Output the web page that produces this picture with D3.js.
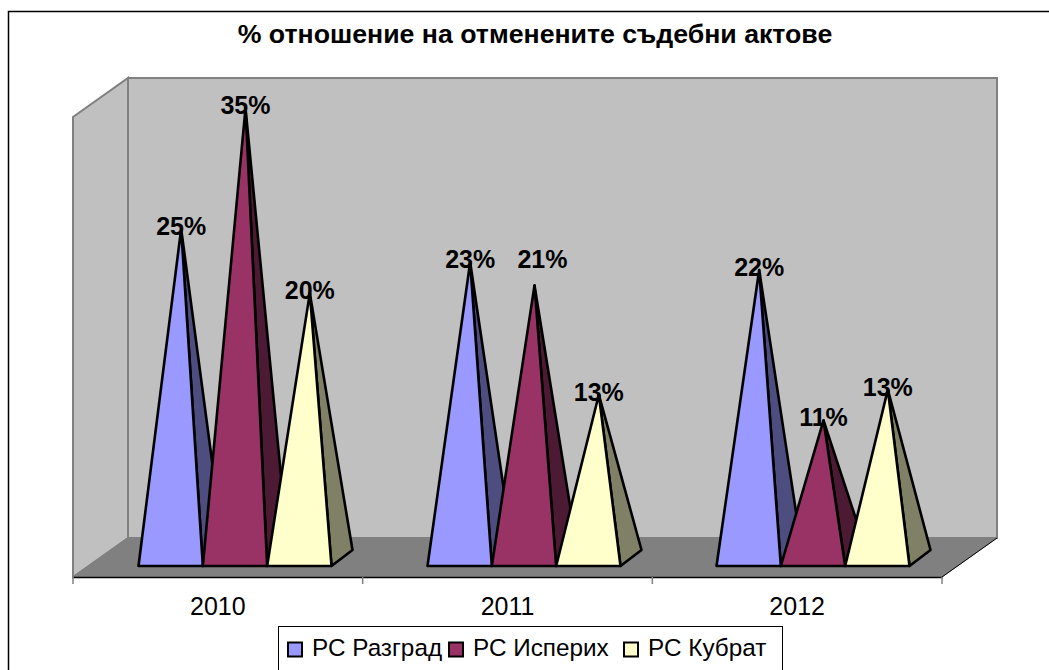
<!DOCTYPE html>
<html>
<head>
<meta charset="utf-8">
<script src="https://cdnjs.cloudflare.com/ajax/libs/d3/7.8.5/d3.min.js"></script>
<style>
html, body { margin: 0; padding: 0; background: #fff; overflow: hidden; }
text { font-family: "Liberation Sans", Arial, sans-serif; fill: #000; }
</style>
</head>
<body>
<div id="main"></div>
<script>
var title = "% отношение на отменените съдебни актове";
var years = ["2010", "2011", "2012"];
var courts = ["РС Разград", "РС Исперих", "РС Кубрат"];
var razgrad = [25.6, 23, 22.4];
var isperih = [35, 21.2, 10.7];
var kubrat = [20.6, 12.7, 13.1];
var razgradLabels = ["25%", "23%", "22%"];
var isperihLabels = ["35%", "21%", "11%"];
var kubratLabels = ["20%", "13%", "13%"];

var frontColors = ["#9999ff", "#993366", "#ffffcc"];
var sideColors = ["#4d4d80", "#4d1a33", "#808066"];

var w = 1049;
var h = 670;

var svg = d3.select("#main").append("svg").
attr("width", w).
attr("height", h);

// chart frame runs off the right and bottom of the picture
svg.append("rect").
attr("x", 8.5).attr("y", 11.5).
attr("width", w + 20).attr("height", h + 20).
attr("fill", "#fff").attr("stroke", "#000").attr("stroke-width", 1.5);

svg.append("text").
attr("x", 535).attr("y", 43).
attr("text-anchor", "middle").
attr("font-weight", "bold").
attr("font-size", 26.7).
text(title);

// box: front plane and the shift to the back plane
var left = 73, right = 942, floorY = 577, topY = 117;
var depthX = 55, depthY = -39;

var wallLine = d3.line();

svg.append("path").
attr("d", wallLine([[left, floorY], [left, topY], [left + depthX, topY + depthY], [left + depthX, floorY + depthY]]) + "Z").
attr("fill", "#c0c0c0").attr("stroke", "#808080").attr("stroke-width", 2);

svg.append("path").
attr("d", wallLine([[left + depthX, topY + depthY], [right + depthX, topY + depthY], [right + depthX, floorY + depthY], [left + depthX, floorY + depthY]]) + "Z").
attr("fill", "#c0c0c0").attr("stroke", "#808080").attr("stroke-width", 2);

svg.append("path").
attr("d", wallLine([[left, floorY], [left + depthX, floorY + depthY], [right + depthX, floorY + depthY], [right, floorY]]) + "Z").
attr("fill", "#808080").attr("stroke", "#808080").attr("stroke-width", 1);

svg.append("path").
attr("d", wallLine([[right, floorY], [right + depthX, floorY + depthY]])).
attr("fill", "none").attr("stroke", "#000").attr("stroke-width", 1);

// axis along the front edge of the floor
var xAxisScale = d3.scaleBand().domain(years).range([left, right]);

var axisG = svg.append("g").attr("transform", "translate(0," + floorY + ")");
axisG.call(d3.axisBottom(xAxisScale).tickSize(0).tickPadding(20)).
selectAll("text").attr("font-size", 25).style("font-family", "'Liberation Sans', Arial, sans-serif");
axisG.select(".domain").attr("stroke", "#000").attr("stroke-width", 1.5);

axisG.selectAll("line.edge").
data(d3.range(4)).
enter().
append("line").
attr("class", "edge").
attr("x1", function (d) {return left + d * xAxisScale.bandwidth();}).
attr("x2", function (d) {return left + d * xAxisScale.bandwidth();}).
attr("y1", 0).attr("y2", 7).
attr("stroke", "#808080").attr("stroke-width", 1.5);

// pyramids
var baseY = 566;
var sideX = 21, sideY = -16;

var x0 = d3.scaleBand().domain(years).range([90.5, 957.5]);
var x1 = d3.scaleBand().domain(d3.range(3)).range([0, 193]);
var y = d3.scaleLinear().domain([0, 35]).range([baseY + sideY / 2, 108]);

var series = [razgrad, isperih, kubrat];
var seriesLabels = [razgradLabels, isperihLabels, kubratLabels];

var groupPad = (x0.bandwidth() - 193) / 2;

years.forEach(function (year, yi) {
  var g = svg.append("g");

  series.forEach(function (values, si) {
    var xl = x0(year) + groupPad + x1(si);
    var xr = xl + x1.bandwidth();
    var apex = [(xl + xr) / 2 + sideX / 2, y(values[yi])];

    g.append("path").
    attr("d", wallLine([[xr, baseY], [xr + sideX, baseY + sideY], apex]) + "Z").
    attr("fill", sideColors[si]).
    attr("stroke", "#000").attr("stroke-width", 2.6).attr("stroke-linejoin", "round");

    g.append("path").
    attr("d", wallLine([[xl, baseY], [xr, baseY], apex]) + "Z").
    attr("fill", frontColors[si]).
    attr("stroke", "#000").attr("stroke-width", 2.6).attr("stroke-linejoin", "round");
  });

  // labels go over every pyramid of the group
  series.forEach(function (values, si) {
    var xl = x0(year) + groupPad + x1(si);
    var apexX = xl + x1.bandwidth() / 2 + sideX / 2;
    // the 21% label sits up and to the right of its peak, clear of it
    var moved = year === "2011" && si === 1;

    g.append("text").
    attr("x", apexX + (moved ? 8 : 0)).
    attr("y", y(values[yi]) + (moved ? -17 : 6)).
    attr("text-anchor", "middle").
    attr("font-weight", "bold").
    attr("font-size", 25).
    text(seriesLabels[si][yi]);
  });
});

// legend, cut off by the bottom of the picture
var legend = svg.append("g");

legend.append("rect").
attr("x", 278.5).attr("y", 626.5).
attr("width", 504).attr("height", 60).
attr("fill", "#fff").attr("stroke", "#000").attr("stroke-width", 1);

var legendX = [288, 449, 624];

courts.forEach(function (court, i) {
  legend.append("rect").
  attr("x", legendX[i]).attr("y", 642.5).
  attr("width", 14).attr("height", 14).
  attr("fill", frontColors[i]).
  attr("stroke", "#000").attr("stroke-width", 2);

  legend.append("text").
  attr("x", legendX[i] + 24).
  attr("y", 656).
  attr("font-size", 24.3).
  text(court);
});
</script>
</body>
</html>
